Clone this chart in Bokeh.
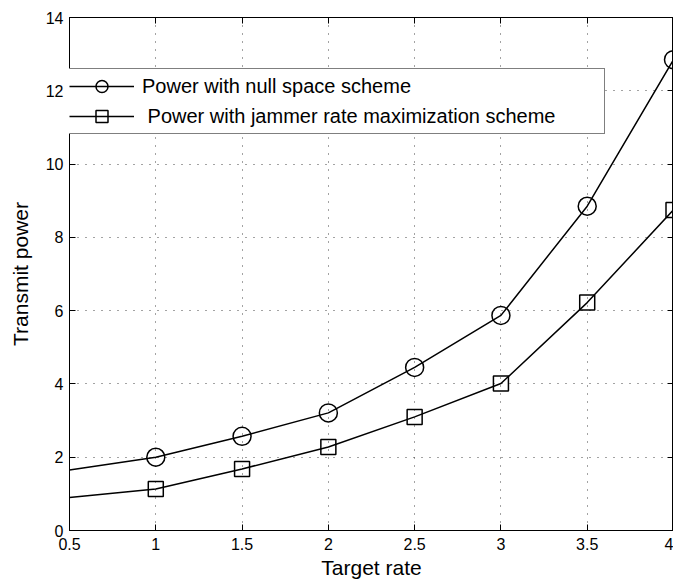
from bokeh.plotting import figure
from bokeh.models import (Range1d, FixedTicker, LinearAxis, Legend, LegendItem)
from bokeh.embed import file_html
from bokeh.resources import INLINE

# ---- data ----
target_rate = [0.5, 1.0, 1.5, 2.0, 2.5, 3.0, 3.5, 4.0]
power_null_space = [1.65, 2.0, 2.57, 3.21, 4.45, 5.87, 8.85, 12.85]
power_jammer_max = [0.90, 1.13, 1.68, 2.28, 3.10, 4.01, 6.22, 8.75]
x_ticks = [0.5, 1.0, 1.5, 2.0, 2.5, 3.0, 3.5, 4.0]
x_tick_labels = ["0.5", "1", "1.5", "2", "2.5", "3", "3.5", "4"]
y_ticks = [0, 2, 4, 6, 8, 10, 12, 14]
label_null = "Power with null space scheme"
label_jammer = " Power with jammer rate maximization scheme"
x_title = "Target rate"
y_title = "Transmit power"

FONT = "Liberation Sans"

p = figure(width=673, height=583, output_backend="svg", toolbar_location=None,
           x_range=Range1d(0.5, 4.0), y_range=Range1d(0, 14),
           min_border_left=69, min_border_right=0, min_border_top=17, min_border_bottom=53,
           x_axis_label=x_title, y_axis_label=y_title)
p.background_fill_color = "white"
p.border_fill_color = "white"
p.outline_line_color = "black"
p.outline_line_width = 1

# axes
p.xaxis.ticker = FixedTicker(ticks=x_ticks)
p.yaxis.ticker = FixedTicker(ticks=y_ticks)
p.xaxis.major_label_overrides = {t: l for t, l in zip(x_ticks, x_tick_labels)}
for ax in (p.xaxis[0], p.yaxis[0]):
    ax.major_tick_in = 6
    ax.major_tick_out = 0
    ax.minor_tick_in = 0
    ax.minor_tick_out = 0
    ax.axis_line_color = "black"
    ax.major_tick_line_color = "black"
    ax.major_label_text_font = FONT
    ax.major_label_text_font_size = "16px"
    ax.major_label_text_color = "black"
    ax.axis_label_text_font = FONT
    ax.axis_label_text_font_size = "21px"
    ax.axis_label_text_font_style = "normal"
    ax.axis_label_text_color = "black"
p.xaxis.major_label_standoff = 7
p.xaxis.axis_label_standoff = 3
p.yaxis.major_label_standoff = 6
p.yaxis.axis_label_standoff = 11

# top / right axes (ticks only)
top = LinearAxis(ticker=FixedTicker(ticks=x_ticks))
right = LinearAxis(ticker=FixedTicker(ticks=y_ticks))
for ax in (top, right):
    ax.major_tick_in = 6
    ax.major_tick_out = 0
    ax.minor_tick_in = 0
    ax.minor_tick_out = 0
    ax.major_label_text_font_size = "0px"
    ax.major_label_standoff = 0
    ax.axis_line_color = "black"
    ax.major_tick_line_color = "black"
p.add_layout(top, "above")
p.add_layout(right, "right")

# grid
for g in (p.xgrid[0], p.ygrid[0]):
    g.grid_line_color = "#333333"
    g.grid_line_dash = "1 7"
    g.grid_line_width = 1
    g.grid_line_alpha = 0.9

# series
l1 = p.line(target_rate, power_null_space, line_color="black", line_width=1.5)
m1 = p.scatter(target_rate[1:], power_null_space[1:], marker="circle", size=18,
               line_color="black", line_width=1.5, fill_color=None)
l2 = p.line(target_rate, power_jammer_max, line_color="black", line_width=1.5)
m2 = p.scatter(target_rate[1:], power_jammer_max[1:], marker="square", size=15,
               line_color="black", line_width=1.5, fill_color=None)

legend = Legend(items=[LegendItem(label=label_null, renderers=[l1, m1]),
                       LegendItem(label=label_jammer, renderers=[l2, m2])],
                location=(-3, 396))
legend.margin = 0
legend.padding = 2
legend.spacing = 0
legend.glyph_width = 65
legend.glyph_height = 30
legend.label_height = 22
legend.label_standoff = 8
legend.label_width = 460
legend.label_text_font = FONT
legend.label_text_font_size = "20px"
legend.label_text_color = "black"
legend.border_line_color = "black"
legend.border_line_width = 1
legend.background_fill_color = "white"
legend.background_fill_alpha = 1
p.add_layout(legend, "center")

open("out.html", "w").write(file_html(p, INLINE))
